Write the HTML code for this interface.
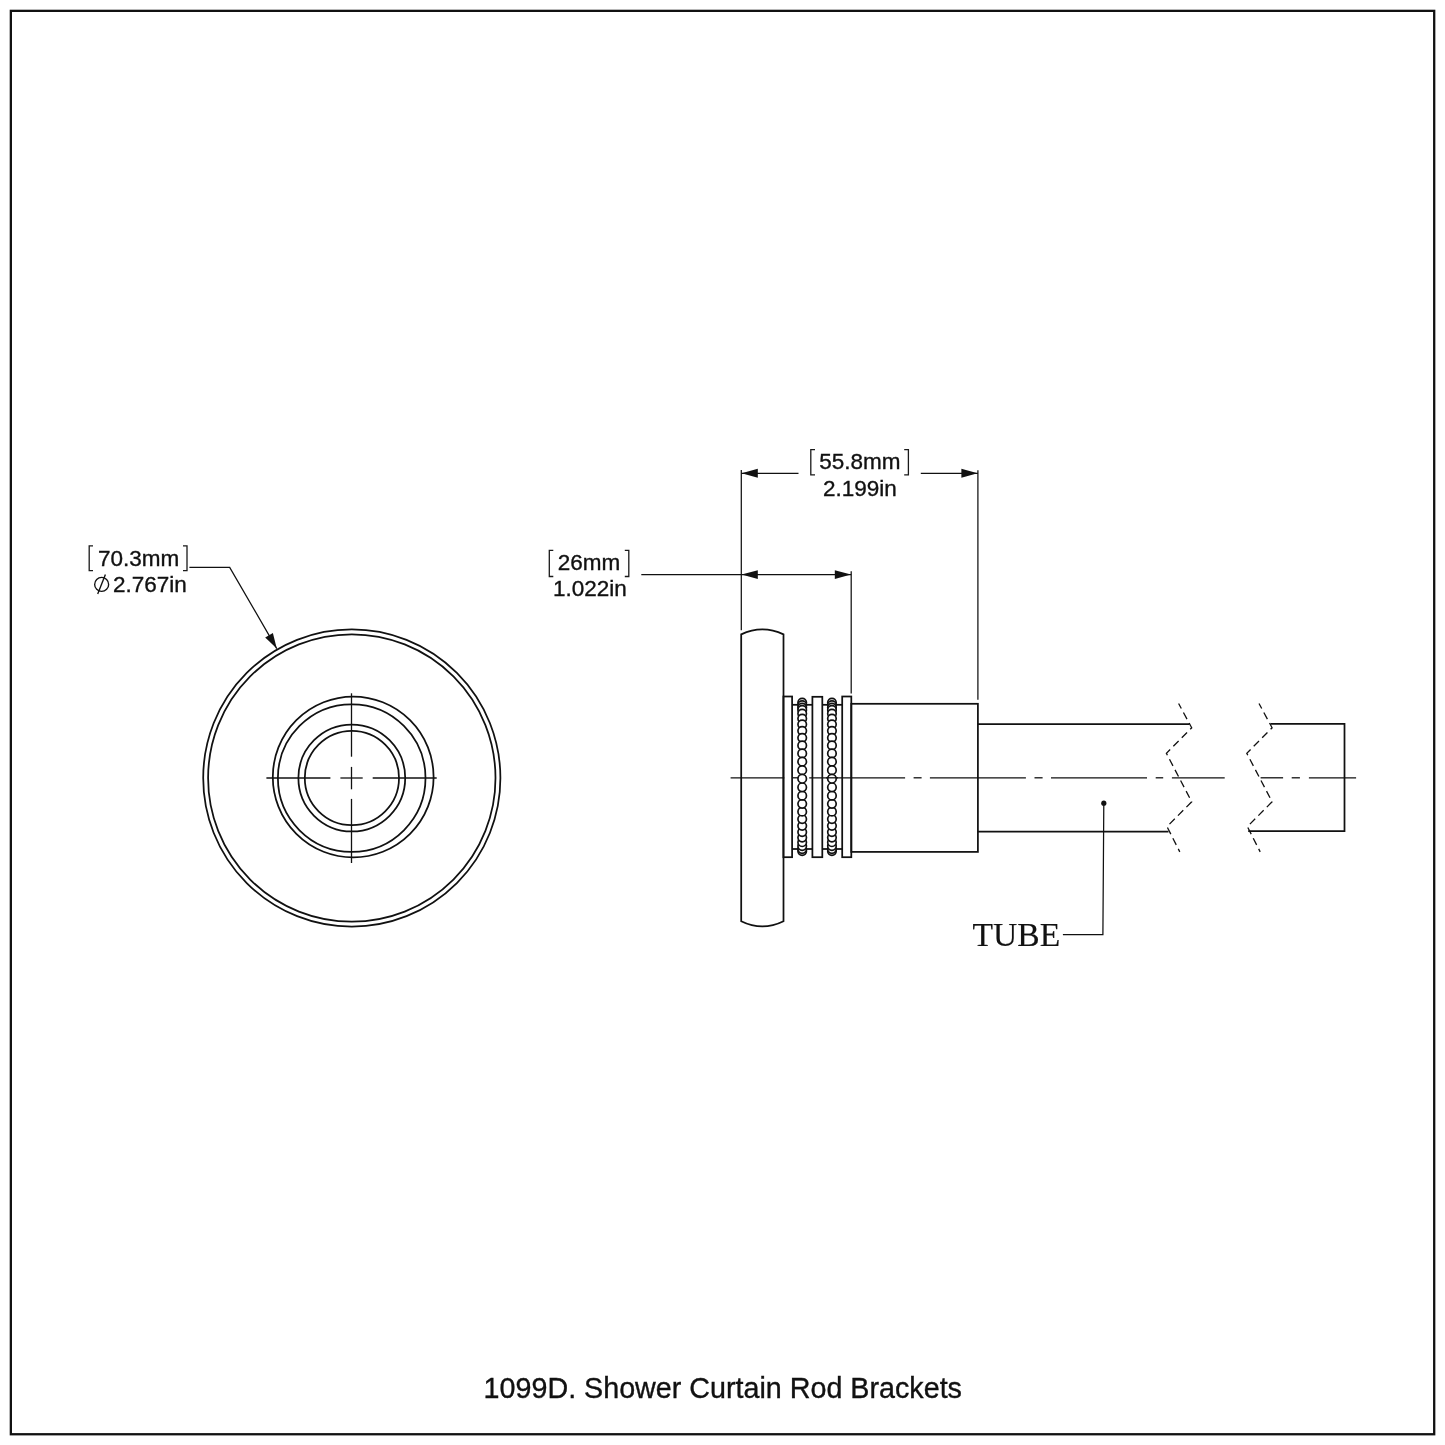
<!DOCTYPE html>
<html><head><meta charset="utf-8"><style>
html,body{margin:0;padding:0;background:#fff;width:1445px;height:1445px;overflow:hidden}
svg{display:block;will-change:transform}
</style></head><body>
<svg width="1445" height="1445" viewBox="0 0 1445 1445" stroke="#111" fill="none" stroke-linecap="butt" stroke-linejoin="miter">
<rect x="10.85" y="10.85" width="1423.35" height="1423.40" stroke-width="2.3" fill="none"/>
<circle cx="351.8" cy="778.0" r="148.6" stroke-width="1.75" fill="none"/>
<circle cx="351.8" cy="778.0" r="143.7" stroke-width="1.75" fill="none"/>
<circle cx="353.2" cy="777.0" r="80.4" stroke-width="1.75" fill="none"/>
<circle cx="351.7" cy="778.1" r="73.8" stroke-width="1.75" fill="none"/>
<circle cx="351.8" cy="778.0" r="53.4" stroke-width="1.75" fill="none"/>
<circle cx="351.9" cy="778.0" r="47.1" stroke-width="1.75" fill="none"/>
<line x1="266.40" y1="778.00" x2="330.40" y2="778.00" stroke-width="1.3" />
<line x1="340.40" y1="778.00" x2="362.70" y2="778.00" stroke-width="1.3" />
<line x1="372.70" y1="778.00" x2="436.70" y2="778.00" stroke-width="1.3" />
<line x1="351.50" y1="693.30" x2="351.50" y2="756.70" stroke-width="1.3" />
<line x1="351.50" y1="766.90" x2="351.50" y2="789.30" stroke-width="1.3" />
<line x1="351.50" y1="798.90" x2="351.50" y2="863.00" stroke-width="1.3" />
<text x="98.00" y="565.50" font-family="&quot;Liberation Sans&quot;, sans-serif" font-size="22.5" fill="#111" stroke="#111" stroke-width="0.35">70.3mm</text>
<path d="M93.00 545.80 H89.20 V570.70 H93.00" stroke-width="1.3" fill="none" stroke="#1a1a1a"/>
<path d="M183.00 545.80 H187.00 V570.70 H183.00" stroke-width="1.3" fill="none" stroke="#1a1a1a"/>
<circle cx="101.65" cy="584.4" r="7.0" stroke-width="1.35" fill="none"/>
<line x1="105.40" y1="574.50" x2="97.70" y2="594.00" stroke-width="1.35" />
<text x="113.00" y="591.60" font-family="&quot;Liberation Sans&quot;, sans-serif" font-size="22.5" fill="#111" stroke="#111" stroke-width="0.35">2.767in</text>
<path d="M189.40 567.40 L229.70 567.40 L276.75 648.60" stroke-width="1.25" fill="none" />
<path d="M276.75 648.60 L265.18 637.51 L272.88 633.04 Z" fill="#111" stroke="none"/>
<line x1="741.30" y1="469.90" x2="741.30" y2="630.20" stroke-width="1.25" />
<line x1="851.20" y1="571.30" x2="851.20" y2="693.40" stroke-width="1.25" />
<line x1="977.90" y1="470.20" x2="977.90" y2="699.70" stroke-width="1.25" />
<line x1="741.30" y1="473.30" x2="798.50" y2="473.30" stroke-width="1.25" />
<line x1="920.80" y1="473.30" x2="977.90" y2="473.30" stroke-width="1.25" />
<path d="M741.60 473.30 L757.80 468.85 L757.80 477.75 Z" fill="#111" stroke="none"/>
<path d="M977.60 473.30 L961.40 477.75 L961.40 468.85 Z" fill="#111" stroke="none"/>
<text x="819.30" y="468.80" font-family="&quot;Liberation Sans&quot;, sans-serif" font-size="22.5" fill="#111" stroke="#111" stroke-width="0.35">55.8mm</text>
<path d="M815.00 449.60 H810.80 V474.90 H815.00" stroke-width="1.3" fill="none" stroke="#1a1a1a"/>
<path d="M904.20 449.60 H908.40 V474.90 H904.20" stroke-width="1.3" fill="none" stroke="#1a1a1a"/>
<text x="823.00" y="495.70" font-family="&quot;Liberation Sans&quot;, sans-serif" font-size="22.5" fill="#111" stroke="#111" stroke-width="0.35">2.199in</text>
<line x1="641.30" y1="574.60" x2="851.20" y2="574.60" stroke-width="1.25" />
<path d="M741.60 574.60 L757.80 570.15 L757.80 579.05 Z" fill="#111" stroke="none"/>
<path d="M851.00 574.60 L834.80 579.05 L834.80 570.15 Z" fill="#111" stroke="none"/>
<text x="557.70" y="570.20" font-family="&quot;Liberation Sans&quot;, sans-serif" font-size="22.5" fill="#111" stroke="#111" stroke-width="0.35">26mm</text>
<path d="M553.30 550.40 H549.30 V576.50 H553.30" stroke-width="1.3" fill="none" stroke="#1a1a1a"/>
<path d="M624.80 550.40 H628.80 V576.50 H624.80" stroke-width="1.3" fill="none" stroke="#1a1a1a"/>
<text x="553.00" y="596.20" font-family="&quot;Liberation Sans&quot;, sans-serif" font-size="22.5" fill="#111" stroke="#111" stroke-width="0.35">1.022in</text>
<path d="M741.2 634.4 Q762.35 624.4 783.5 634.4 V921.2 Q762.35 931.6 741.2 921.2 Z" stroke-width="1.75" fill="none"/>
<line x1="730.6" y1="777.8" x2="784.3" y2="777.8" stroke-width="1.3"/>
<line x1="792.5" y1="777.8" x2="800.5" y2="777.8" stroke-width="1.3"/>
<line x1="809.2" y1="777.8" x2="905.1" y2="777.8" stroke-width="1.3"/>
<line x1="913.6" y1="777.8" x2="921.6" y2="777.8" stroke-width="1.3"/>
<line x1="929.9" y1="777.8" x2="1025.9" y2="777.8" stroke-width="1.3"/>
<line x1="1034.5" y1="777.8" x2="1042.6" y2="777.8" stroke-width="1.3"/>
<line x1="1051" y1="777.8" x2="1147" y2="777.8" stroke-width="1.3"/>
<line x1="1155.7" y1="777.8" x2="1163.2" y2="777.8" stroke-width="1.3"/>
<line x1="1171.9" y1="777.8" x2="1224.7" y2="777.8" stroke-width="1.3"/>
<line x1="1260.6" y1="777.8" x2="1283.1" y2="777.8" stroke-width="1.3"/>
<line x1="1291.7" y1="777.8" x2="1299.9" y2="777.8" stroke-width="1.3"/>
<line x1="1308.9" y1="777.8" x2="1356.1" y2="777.8" stroke-width="1.3"/>
<rect x="783.4" y="696.5" width="8.70" height="160.70" stroke-width="1.75" fill="none"/>
<rect x="812.4" y="696.8" width="9.90" height="160.40" stroke-width="1.75" fill="none"/>
<rect x="842.2" y="696.5" width="9.10" height="160.70" stroke-width="1.75" fill="none"/>
<line x1="792.10" y1="704.80" x2="812.40" y2="704.80" stroke-width="1.75" />
<line x1="792.10" y1="849.00" x2="812.40" y2="849.00" stroke-width="1.75" />
<line x1="822.30" y1="704.80" x2="842.20" y2="704.80" stroke-width="1.75" />
<line x1="822.30" y1="849.00" x2="842.20" y2="849.00" stroke-width="1.75" />
<circle cx="802.2" cy="702.62" r="4.25" fill="#fff" stroke-width="1.7"/>
<circle cx="802.2" cy="705.19" r="4.25" fill="#fff" stroke-width="1.7"/>
<circle cx="802.2" cy="851.08" r="4.25" fill="#fff" stroke-width="1.7"/>
<circle cx="802.2" cy="707.60" r="4.25" fill="#fff" stroke-width="1.7"/>
<circle cx="802.2" cy="849.06" r="4.25" fill="#fff" stroke-width="1.7"/>
<circle cx="802.2" cy="709.93" r="4.25" fill="#fff" stroke-width="1.7"/>
<circle cx="802.2" cy="846.10" r="4.25" fill="#fff" stroke-width="1.7"/>
<circle cx="802.2" cy="713.54" r="4.25" fill="#fff" stroke-width="1.7"/>
<circle cx="802.2" cy="842.24" r="4.25" fill="#fff" stroke-width="1.7"/>
<circle cx="802.2" cy="718.56" r="4.25" fill="#fff" stroke-width="1.7"/>
<circle cx="802.2" cy="837.54" r="4.25" fill="#fff" stroke-width="1.7"/>
<circle cx="802.2" cy="724.34" r="4.25" fill="#fff" stroke-width="1.7"/>
<circle cx="802.2" cy="832.06" r="4.25" fill="#fff" stroke-width="1.7"/>
<circle cx="802.2" cy="730.81" r="4.25" fill="#fff" stroke-width="1.7"/>
<circle cx="802.2" cy="825.87" r="4.25" fill="#fff" stroke-width="1.7"/>
<circle cx="802.2" cy="737.87" r="4.25" fill="#fff" stroke-width="1.7"/>
<circle cx="802.2" cy="819.04" r="4.25" fill="#fff" stroke-width="1.7"/>
<circle cx="802.2" cy="745.43" r="4.25" fill="#fff" stroke-width="1.7"/>
<circle cx="802.2" cy="811.67" r="4.25" fill="#fff" stroke-width="1.7"/>
<circle cx="802.2" cy="753.41" r="4.25" fill="#fff" stroke-width="1.7"/>
<circle cx="802.2" cy="803.85" r="4.25" fill="#fff" stroke-width="1.7"/>
<circle cx="802.2" cy="761.69" r="4.25" fill="#fff" stroke-width="1.7"/>
<circle cx="802.2" cy="795.68" r="4.25" fill="#fff" stroke-width="1.7"/>
<circle cx="802.2" cy="770.16" r="4.25" fill="#fff" stroke-width="1.7"/>
<circle cx="802.2" cy="787.27" r="4.25" fill="#fff" stroke-width="1.7"/>
<circle cx="802.2" cy="778.73" r="4.25" fill="#fff" stroke-width="1.7"/>
<circle cx="831.95" cy="702.62" r="4.25" fill="#fff" stroke-width="1.7"/>
<circle cx="831.95" cy="705.19" r="4.25" fill="#fff" stroke-width="1.7"/>
<circle cx="831.95" cy="851.08" r="4.25" fill="#fff" stroke-width="1.7"/>
<circle cx="831.95" cy="707.60" r="4.25" fill="#fff" stroke-width="1.7"/>
<circle cx="831.95" cy="849.06" r="4.25" fill="#fff" stroke-width="1.7"/>
<circle cx="831.95" cy="709.93" r="4.25" fill="#fff" stroke-width="1.7"/>
<circle cx="831.95" cy="846.10" r="4.25" fill="#fff" stroke-width="1.7"/>
<circle cx="831.95" cy="713.54" r="4.25" fill="#fff" stroke-width="1.7"/>
<circle cx="831.95" cy="842.24" r="4.25" fill="#fff" stroke-width="1.7"/>
<circle cx="831.95" cy="718.56" r="4.25" fill="#fff" stroke-width="1.7"/>
<circle cx="831.95" cy="837.54" r="4.25" fill="#fff" stroke-width="1.7"/>
<circle cx="831.95" cy="724.34" r="4.25" fill="#fff" stroke-width="1.7"/>
<circle cx="831.95" cy="832.06" r="4.25" fill="#fff" stroke-width="1.7"/>
<circle cx="831.95" cy="730.81" r="4.25" fill="#fff" stroke-width="1.7"/>
<circle cx="831.95" cy="825.87" r="4.25" fill="#fff" stroke-width="1.7"/>
<circle cx="831.95" cy="737.87" r="4.25" fill="#fff" stroke-width="1.7"/>
<circle cx="831.95" cy="819.04" r="4.25" fill="#fff" stroke-width="1.7"/>
<circle cx="831.95" cy="745.43" r="4.25" fill="#fff" stroke-width="1.7"/>
<circle cx="831.95" cy="811.67" r="4.25" fill="#fff" stroke-width="1.7"/>
<circle cx="831.95" cy="753.41" r="4.25" fill="#fff" stroke-width="1.7"/>
<circle cx="831.95" cy="803.85" r="4.25" fill="#fff" stroke-width="1.7"/>
<circle cx="831.95" cy="761.69" r="4.25" fill="#fff" stroke-width="1.7"/>
<circle cx="831.95" cy="795.68" r="4.25" fill="#fff" stroke-width="1.7"/>
<circle cx="831.95" cy="770.16" r="4.25" fill="#fff" stroke-width="1.7"/>
<circle cx="831.95" cy="787.27" r="4.25" fill="#fff" stroke-width="1.7"/>
<circle cx="831.95" cy="778.73" r="4.25" fill="#fff" stroke-width="1.7"/>
<line x1="826.00" y1="777.80" x2="838.00" y2="777.80" stroke-width="1.3" />
<rect x="851.3" y="703.8" width="126.60" height="148.10" stroke-width="1.75" fill="none"/>
<line x1="977.90" y1="724.10" x2="1189.60" y2="724.10" stroke-width="1.75" />
<line x1="977.90" y1="831.50" x2="1168.50" y2="831.50" stroke-width="1.75" />
<path d="M1270.50 723.80 L1344.50 723.80 L1344.50 831.20 L1248.20 831.20" stroke-width="1.75" fill="none" />
<path d="M1178.60 703.50 L1191.70 727.80 L1166.40 753.30 L1191.70 801.80 L1167.00 826.60 L1179.80 851.90" stroke-width="1.3" fill="none" stroke-dasharray="7.5 4.5" stroke-dashoffset="1.8"/>
<path d="M1259.00 703.50 L1272.10 727.80 L1246.80 753.30 L1272.10 801.80 L1247.40 826.60 L1260.20 851.90" stroke-width="1.3" fill="none" stroke-dasharray="7.5 4.5" stroke-dashoffset="1.8"/>
<circle cx="1103.8" cy="803.2" r="2.6" fill="#111" stroke="none"/>
<path d="M1103.80 803.20 L1102.90 934.50 L1062.90 934.50" stroke-width="1.25" fill="none" />
<text x="972.60" y="946.40" font-family="&quot;Liberation Serif&quot;, serif" font-size="33.6" fill="#111" stroke="#111" stroke-width="0.15">TUBE</text>
<text x="483.60" y="1397.90" font-family="&quot;Liberation Sans&quot;, sans-serif" font-size="28.7" fill="#111" stroke="#111" stroke-width="0.35">1099D. Shower Curtain Rod Brackets</text>
</svg>
</body></html>
